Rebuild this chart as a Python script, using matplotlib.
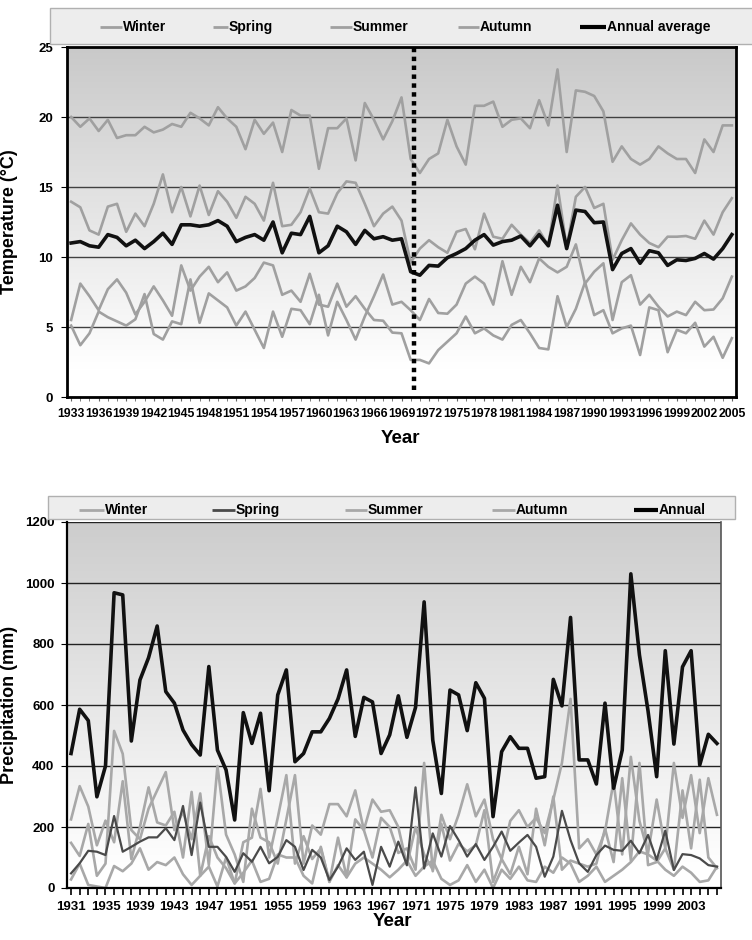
import matplotlib.pyplot as plt
import numpy as np
from matplotlib.lines import Line2D
from matplotlib.patches import Rectangle

plt.rcParams['font.family'] = ['Liberation Sans', 'DejaVu Sans']
plt.rcParams['font.weight'] = 'bold'

# ---- temperature panel (1933-2005) ----
temp_years = np.arange(1933, 2006)
shift_year = 1970

winter_t = [5.5, 8.1, 7.2, 6.2, 7.7, 8.4, 7.45, 5.9, 6.8, 7.9,
            6.9, 5.8, 9.4, 7.6, 8.6, 9.3, 8.2, 8.9, 7.6, 7.9,
            8.5, 9.6, 9.4, 7.3, 7.6, 6.8, 8.8, 6.6, 6.45, 8.1,
            6.45, 7.2, 6.3, 5.5, 5.45, 4.6, 4.55, 2.65, 2.65, 2.4,
            3.35, 3.95, 4.55, 5.75, 4.55, 4.9, 4.4, 4.1, 5.15, 5.5,
            4.55, 3.5, 3.4, 7.2, 5.0, 6.3, 8.2, 5.85, 6.2, 4.55,
            4.9, 5.1, 3.0, 6.4, 6.2, 3.2, 4.8, 4.55, 5.3, 3.6,
            4.3, 2.8, 4.2]
spring_t = [5.1, 3.7, 4.55, 6.1, 5.7, 5.4, 5.1, 5.55, 7.35, 4.5,
            4.1, 5.4, 5.2, 8.4, 5.3, 7.4, 6.9, 6.4, 5.1, 6.1,
            4.8, 3.5, 6.1, 4.3, 6.3, 6.2, 5.2, 7.3, 4.4, 6.8,
            5.5, 4.1, 5.75, 7.2, 8.75, 6.6, 6.8, 6.2, 5.5, 7.0,
            6.0, 5.95, 6.6, 8.1, 8.6, 8.1, 6.6, 9.7, 7.3, 9.3,
            8.2, 9.9, 9.3, 8.9, 9.3, 10.9, 8.1, 8.95, 9.55, 5.5,
            8.2, 8.7, 6.6, 7.3, 6.45, 5.75, 6.1, 5.85, 6.8, 6.2,
            6.25, 7.05, 8.6]
summer_t = [20.0, 19.3, 19.9, 19.0, 19.8, 18.5, 18.7, 18.7, 19.3, 18.9,
            19.1, 19.5, 19.3, 20.3, 19.9, 19.4, 20.7, 19.9, 19.3, 17.7,
            19.8, 18.8, 19.6, 17.5, 20.5, 20.1, 20.1, 16.3, 19.2, 19.2,
            19.9, 16.9, 21.0, 19.8, 18.4, 19.7, 21.4, 17.0, 16.0, 17.0,
            17.4, 19.8, 17.9, 16.6, 20.8, 20.8, 21.1, 19.3, 19.8, 19.9,
            19.2, 21.2, 19.4, 23.4, 17.5, 21.9, 21.8, 21.5, 20.4, 16.8,
            17.9, 17.0, 16.6, 17.0, 17.9, 17.4, 17.0, 17.0, 16.0, 18.4,
            17.5, 19.4, 19.4]
autumn_t = [13.95, 13.55, 11.9, 11.6, 13.6, 13.8, 11.8, 13.1, 12.2, 13.8,
            15.9, 13.2, 15.0, 12.9, 15.1, 13.0, 14.7, 13.95, 12.8, 14.3,
            13.8, 12.6, 15.3, 12.2, 12.3, 13.2, 14.9, 13.2, 13.1, 14.55,
            15.4, 15.3, 13.8, 12.2, 13.1, 13.6, 12.6, 9.6, 10.6, 11.2,
            10.7, 10.3, 11.8, 12.0, 10.55, 13.1, 11.45, 11.3, 12.3, 11.6,
            11.0, 11.9, 10.8, 15.1, 10.7, 14.3, 15.0, 13.5, 13.8, 9.8,
            11.2, 12.4, 11.6, 11.0, 10.7, 11.45, 11.45, 11.5, 11.3, 12.6,
            11.6, 13.2, 14.2]
annual_t = [11.0, 11.1, 10.8, 10.7, 11.6, 11.4, 10.8, 11.2, 10.6, 11.1,
            11.7, 10.9, 12.3, 12.3, 12.2, 12.3, 12.6, 12.2, 11.1, 11.4,
            11.6, 11.2, 12.5, 10.3, 11.7, 11.6, 12.9, 10.3, 10.8, 12.2,
            11.8, 10.9, 11.9, 11.3, 11.45, 11.2, 11.3, 8.95, 8.7, 9.4,
            9.35, 9.95, 10.25, 10.6, 11.2, 11.6, 10.85, 11.1, 11.2, 11.5,
            10.8, 11.6, 10.8, 13.7, 10.6, 13.35, 13.25, 12.45, 12.5, 9.1,
            10.25, 10.6, 9.55, 10.45, 10.3, 9.4, 9.8, 9.75, 9.9, 10.25,
            9.85, 10.6, 11.6]

# ---- precipitation panel (1931-2006) ----
prec_years = np.arange(1931, 2007)

winter_p = [225, 334, 267, 140, 221, 150, 350, 95, 200, 330,
            215, 205, 250, 100, 315, 40, 170, 100, 65, 15,
            150, 165, 325, 100, 230, 370, 80, 170, 95, 130,
            20, 165, 35, 225, 190, 100, 230, 200, 115, 130,
            60, 410, 55, 210, 90, 145, 120, 140, 255, 20,
            95, 45, 135, 45, 260, 140, 300, 60, 90, 80,
            70, 80, 195, 85, 360, 90, 410, 75, 85, 130,
            60, 320, 130, 355, 100, 65]
spring_p = [48, 81, 122, 119, 108, 236, 119, 135, 152, 166,
            166, 196, 157, 269, 108, 280, 135, 135, 102, 53,
            114, 86, 135, 81, 102, 157, 135, 59, 125, 100,
            26, 70, 130, 92, 119, 10, 135, 70, 152, 75,
            330, 64, 179, 103, 203, 157, 103, 144, 92, 135,
            185, 122, 149, 174, 135, 37, 103, 253, 157, 81,
            53, 108, 139, 125, 122, 155, 114, 174, 92, 188,
            59, 111, 108, 97, 75, 70]
summer_p = [148, 105, 210, 40, 80, 515, 440, 190, 160, 260,
            320, 380, 190, 250, 160, 310, 75, 400, 175, 110,
            20, 260, 165, 150, 80, 225, 370, 80, 205, 175,
            275, 275, 235, 320, 190, 290, 250, 255, 200, 75,
            200, 110, 60, 240, 160, 240, 340, 235, 290, 160,
            95, 220, 255, 200, 230, 180, 290, 410, 620, 130,
            160, 110, 185, 350, 110, 430, 220, 115, 290, 130,
            410, 230, 370, 180, 360, 240]
autumn_p = [28, 80, 10, 5, 0, 72, 55, 80, 130, 60,
            85, 75, 100, 45, 10, 40, 70, 5, 100, 15,
            50, 90, 20, 30, 110, 100, 100, 40, 15, 135,
            20, 75, 35, 80, 100, 80, 60, 35, 60, 90,
            40, 70, 90, 30, 10, 25, 75, 20, 60, 0,
            60, 30, 70, 25, 20, 70, 50, 100, 80, 20,
            40, 70, 20, 40, 60, 85, 120, 110, 90, 60,
            40, 70, 50, 20, 25, 70]
annual_p = [441, 586, 549, 299, 400, 968, 961, 482, 682, 755,
            859, 644, 606, 518, 470, 436, 726, 452, 387, 223,
            575, 474, 573, 319, 633, 715, 414, 441, 512, 512,
            556, 620, 715, 497, 625, 610, 441, 502, 630, 494,
            592, 938, 485, 310, 649, 633, 516, 673, 622, 234,
            447, 496, 458, 458, 360, 365, 684, 597, 887, 420,
            420, 341, 606, 327, 452, 1030, 764, 580, 365, 778,
            472, 725, 778, 403, 504, 474]

W, H = 752, 940
GRAY = '#a0a0a0'


def gradient(ax, top_color, stop):
    # vertical fill: white near the bottom, grey at the top
    x0, x1 = ax.get_xlim()
    y0, y1 = ax.get_ylim()
    t = np.linspace(0, 1, 256)
    f = np.clip((t - stop) / (1 - stop), 0, 1)[:, None]
    top = np.array(plt.matplotlib.colors.to_rgb(top_color))
    img = (1 - f) * np.ones(3) + f * top
    ax.imshow(img[:, None, :], origin='lower', extent=(x0, x1, y0, y1),
              aspect='auto', zorder=0, interpolation='bilinear')
    ax.set_xlim(x0, x1)
    ax.set_ylim(y0, y1)


def legend_row(items, yc, box):
    bx0, by0, bx1, by1 = box
    fig.add_artist(Rectangle((bx0 / W, 1 - by1 / H), (bx1 - bx0) / W, (by1 - by0) / H,
                             transform=fig.transFigure, facecolor='#ededed',
                             edgecolor='#b0b0b0', lw=1, zorder=5))
    for label, color, lw, xa, xb in items:
        fig.add_artist(Line2D([xa / W, xb / W], [1 - yc / H] * 2, transform=fig.transFigure,
                              color=color, lw=lw, zorder=6, solid_capstyle='butt'))
        fig.text((xb + 1) / W, 1 - yc / H, label, fontsize=10, fontweight='bold',
                 va='center', ha='left', zorder=7)


fig = plt.figure(figsize=(W / 100, H / 100), dpi=100)

# ---------------- temperature ----------------
ax1 = fig.add_axes([67 / W, 1 - 397 / H, (736 - 67) / W, (397 - 47) / H])
ax1.set_xlim(temp_years[0] - 0.45, temp_years[-1] + 0.45)
ax1.set_ylim(0, 25)
gradient(ax1, '#c9c9c9', 0.08)
ax1.set_yticks(np.arange(0, 26, 5))
ax1.yaxis.grid(True, color='#404040', lw=1, zorder=0.5)
ax1.set_axisbelow(True)

for series in (winter_t, spring_t, summer_t, autumn_t):
    ax1.plot(temp_years, series, color=GRAY, lw=1.9, zorder=2)
ax1.plot(temp_years, annual_t, color='#111111', lw=2.6, zorder=3)
ax1.axvline(shift_year + 0.4, ymin=0.02, ymax=1, color='black', lw=3.2,
            linestyle=(0, (1, 1)), dash_capstyle='butt', zorder=4)

ax1.set_xticks(temp_years[::3])
ax1.set_xticks(temp_years, minor=True)
ax1.set_xticklabels([str(y) for y in temp_years[::3]], fontsize=8.8, fontweight='bold')
ax1.tick_params(axis='x', which='both', length=3, color='#666666', pad=5)
ax1.tick_params(axis='y', length=4, labelsize=9.5, pad=6)
for s in ax1.spines.values():
    s.set_linewidth(2)
    s.set_color('black')
ax1.set_ylabel('Temperature (°C)', fontsize=13, fontweight='bold')
ax1.yaxis.set_label_coords((18 - 67) / 669, 0.5)
ax1.set_xlabel('Year', fontsize=13.5, fontweight='bold')
ax1.xaxis.set_label_coords((400 - 67) / 669, -(430 - 397) / 350)

legend_row([('Winter', GRAY, 2, 100, 122), ('Spring', GRAY, 2, 213, 228),
            ('Summer', GRAY, 2, 330, 352), ('Autumn', GRAY, 2, 458, 479),
            ('Annual average', 'black', 3, 580, 606)], 27, (50, 8, 770, 44))

# ---------------- precipitation ----------------
ax2 = fig.add_axes([67 / W, 1 - 888 / H, (721 - 67) / W, (888 - 522) / H])
ax2.set_xlim(prec_years[0] - 0.47, prec_years[-1] + 0.47)
ax2.set_ylim(0, 1200)
gradient(ax2, '#cdcdcd', 0.05)
ax2.set_yticks(np.arange(0, 1201, 200))
ax2.yaxis.grid(True, color='#222222', lw=1, zorder=0.5)
ax2.set_axisbelow(True)

ax2.plot(prec_years, winter_p, color='#a8a8a8', lw=1.9, zorder=2)
ax2.plot(prec_years, summer_p, color='#a8a8a8', lw=1.9, zorder=2)
ax2.plot(prec_years, autumn_p, color='#a8a8a8', lw=1.9, zorder=2)
ax2.plot(prec_years, spring_p, color='#4a4a4a', lw=1.6, zorder=2)
ax2.plot(prec_years, annual_p, color='#111111', lw=2.6, zorder=3)

ax2.set_xticks(prec_years[::4])
ax2.set_xticks(prec_years, minor=True)
ax2.set_xticklabels([str(y) for y in prec_years[::4]], fontsize=9.5, fontweight='bold')
ax2.tick_params(axis='x', which='both', length=5, width=1.2, pad=4)
ax2.tick_params(axis='y', length=4, labelsize=9.5, pad=5)
ax2.spines['top'].set_visible(False)
ax2.spines['right'].set_color('#555555')
ax2.spines['right'].set_linewidth(1.2)
for k in ('left', 'bottom'):
    ax2.spines[k].set_linewidth(1.6)
ax2.set_ylabel('Precipitation (mm)', fontsize=13, fontweight='bold')
ax2.yaxis.set_label_coords((18 - 67) / 654, 0.5)
ax2.set_xlabel('Year', fontsize=13.5, fontweight='bold')
ax2.xaxis.set_label_coords((392 - 67) / 654, -(913 - 888) / 366)

legend_row([('Winter', '#a8a8a8', 2, 79, 104), ('Spring', '#4a4a4a', 2, 212, 235),
            ('Summer', '#a8a8a8', 2, 345, 367), ('Autumn', '#a8a8a8', 2, 492, 515),
            ('Annual', 'black', 3, 634, 658)], 510, (48, 496, 735, 519))

fig.savefig('out.png', dpi=100)
